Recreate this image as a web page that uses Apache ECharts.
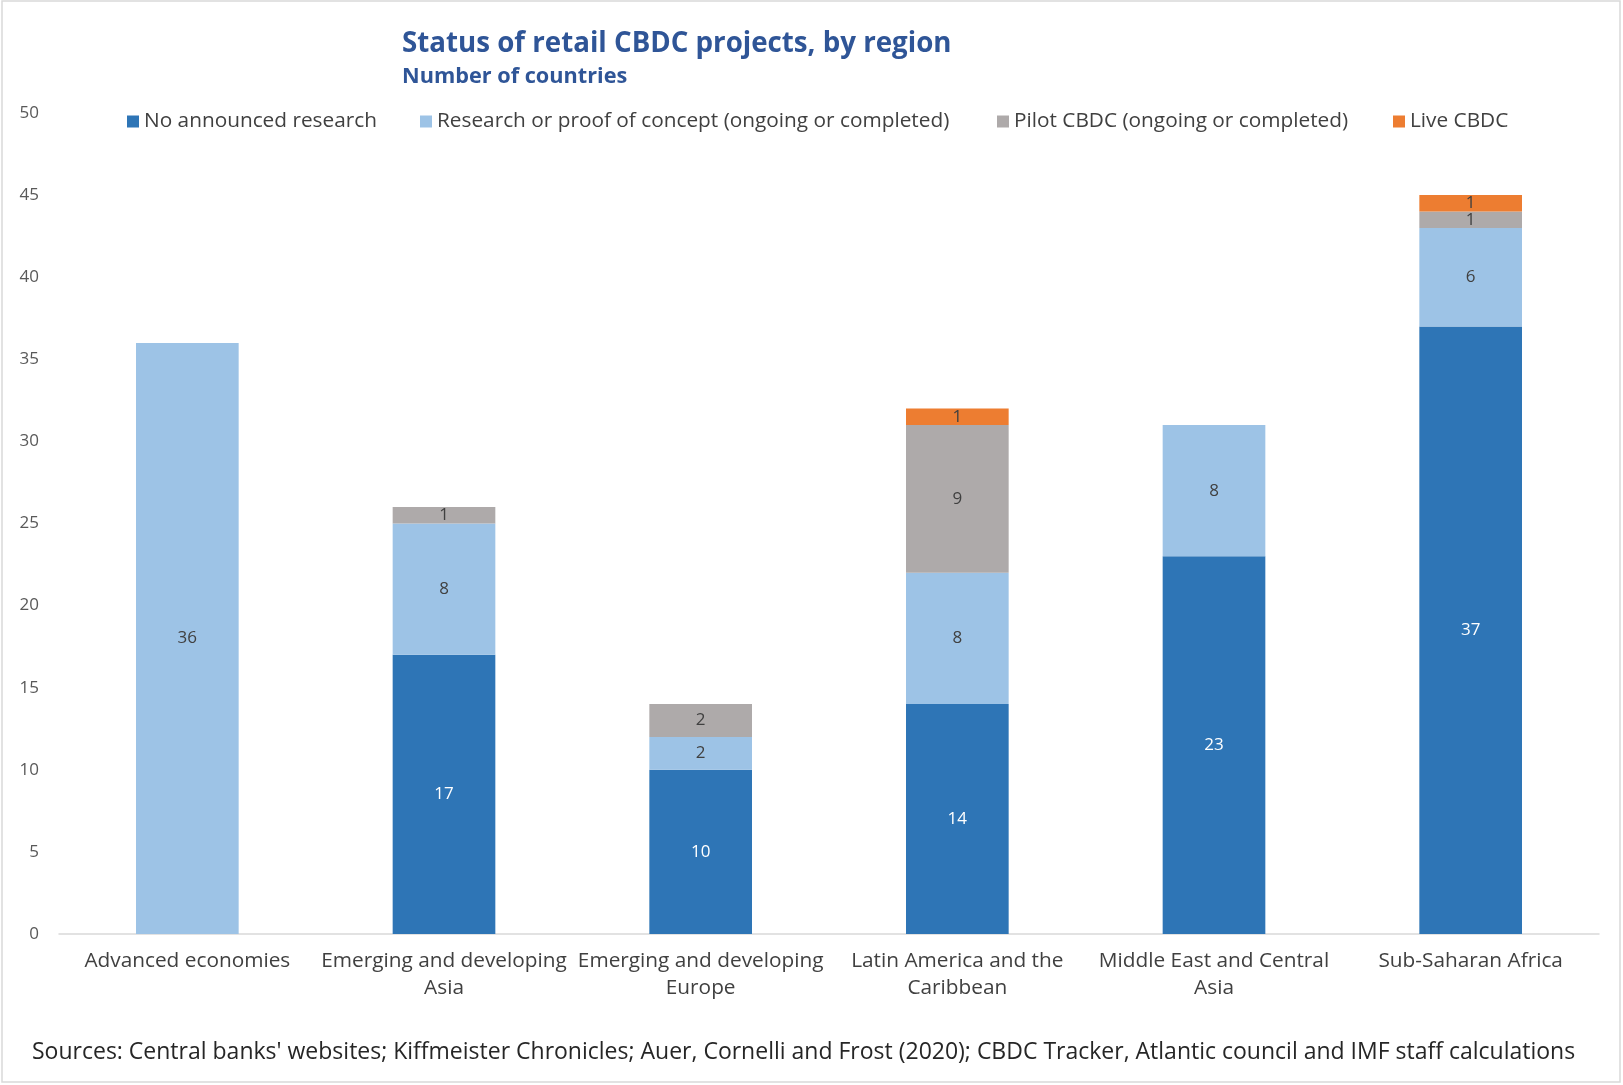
<!DOCTYPE html>
<html>
<head>
<meta charset="utf-8">
<script src="https://cdn.jsdelivr.net/npm/echarts@6/dist/echarts.min.js"></script>
<style>
  html, body { margin: 0; padding: 0; background: #fff; }
  #chart-main { width: 1623px; height: 1085px; }
</style>
</head>
<body>
<div id="chart-main"></div>
<script>
// regions on the x axis
var regions = ["Advanced economies", "Emerging and developing\nAsia", "Emerging and developing\nEurope",
    "Latin America and the\nCaribbean", "Middle East and Central\nAsia", "Sub-Saharan Africa"];

// number of countries per status
var no_research = [0, 17, 10, 14, 23, 37];
var research = [36, 8, 2, 8, 8, 6];
var pilot = [0, 1, 2, 9, 0, 1];
var live = [0, 0, 0, 1, 0, 1];

var y_ticks = [0, 5, 10, 15, 20, 25, 30, 35, 40, 45, 50];

var series_names = ["No announced research", "Research or proof of concept (ongoing or completed)",
    "Pilot CBDC (ongoing or completed)", "Live CBDC"];
var series_colors = ["#2E75B6", "#9DC3E6", "#AEAAAA", "#ED7D31"];
var series_data = [no_research, research, pilot, live];
var legend_left = [122, 415, 992, 1388];

var font = "Open Sans";
var chart_dom = document.getElementById("chart-main");
var chart = echarts.init(chart_dom, null, {renderer: "canvas"});

// one legend per item so each sits where it should
var legends = series_names.map(function (name, i) {
    return {
        data: [name],
        left: legend_left[i],
        top: 106,
        itemWidth: 12,
        itemHeight: 12,
        icon: "rect",
        textStyle: {fontFamily: font, fontSize: 20.8, color: "#404040"}
    };
});

var series = series_names.map(function (name, i) {
    return {
        name: name,
        type: "bar",
        stack: "total",
        barWidth: "40%",
        data: series_data[i],
        itemStyle: {color: series_colors[i]},
        label: {
            show: true,
            position: "inside",
            fontFamily: font,
            fontSize: 17,
            color: i == 0 ? "#ffffff" : "#404040",
            formatter: function (p) { return p.value ? String(p.value) : ""; }
        }
    };
});

var option = {
    backgroundColor: "#ffffff",
    animation: false,
    title: [
        {
            text: "Status of retail CBDC projects, by region",
            left: 397, top: 25,
            textStyle: {fontFamily: font, fontSize: 27.7, fontWeight: "bold", color: "#2F5597"}
        },
        {
            text: "Number of countries",
            left: 397, top: 61,
            textStyle: {fontFamily: font, fontSize: 21.7, fontWeight: "bold", color: "#2F5597"}
        }
    ],
    legend: legends,
    grid: {left: 59, right: 24, top: 113, bottom: 151, containLabel: false},
    xAxis: {
        type: "category",
        data: regions,
        axisLine: {lineStyle: {color: "#D9D9D9", width: 1.5}},
        axisTick: {show: false},
        axisLabel: {fontFamily: font, fontSize: 20.8, color: "#404040", lineHeight: 27, margin: 14, interval: 0}
    },
    yAxis: {
        type: "value",
        min: y_ticks[0],
        max: y_ticks[y_ticks.length - 1],
        interval: 5,
        splitLine: {show: false},
        axisLine: {show: false},
        axisLabel: {fontFamily: font, fontSize: 17, color: "#595959", margin: 20}
    },
    series: series,
    graphic: [
        {
            type: "rect",
            shape: {x: 2, y: 1, width: 1618, height: 1081},
            style: {fill: "none", stroke: "#D9D9D9", lineWidth: 1.5},
            silent: true
        },
        {
            type: "text",
            left: 32, top: 1041,
            style: {
                text: "Sources: Central banks' websites; Kiffmeister Chronicles; Auer, Cornelli and Frost (2020); CBDC Tracker, Atlantic council and IMF staff calculations",
                font: "23px " + font,
                fill: "#262626"
            }
        }
    ]
};

chart.setOption(option);
</script>
</body>
</html>
